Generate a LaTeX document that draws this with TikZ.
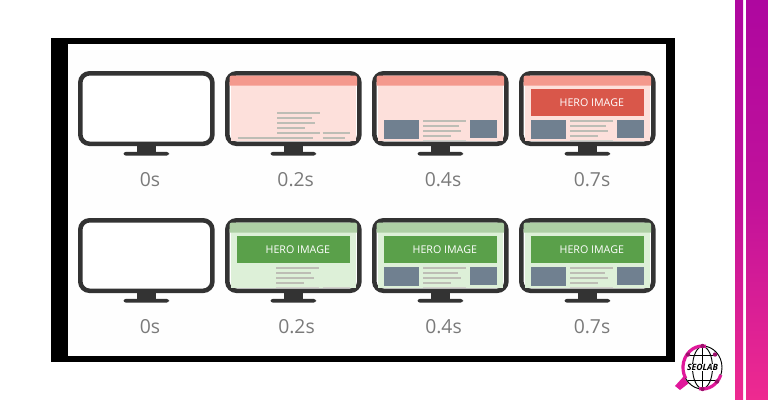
\documentclass[tikz,border=0pt]{standalone}
\usepackage{fontspec}
\setmainfont{Open Sans}
\usepackage{tikz}
\definecolor{mdark}{HTML}{333333}
\definecolor{mlabel}{HTML}{7A7A7A}
\definecolor{mline}{HTML}{BDBDB5}
\definecolor{mbox}{HTML}{708090}
\definecolor{rhead}{HTML}{F4998D}
\definecolor{rpage}{HTML}{FDE0DB}
\definecolor{rhero}{HTML}{D9574A}
\definecolor{ghead}{HTML}{AECFA5}
\definecolor{gpage}{HTML}{DDF0D8}
\definecolor{ghero}{HTML}{5AA04A}
\definecolor{bandtop}{HTML}{AE079F}
\definecolor{bandbot}{HTML}{EE2A90}
\definecolor{seopink}{HTML}{E0189A}
\tikzset{
  timelabel/.style={mlabel,font=\fontsize{14.5}{16}\selectfont},
  herolabel/.style={white,font=\fontsize{8}{10}\selectfont},
  textbar/.style={mline,line width=1.5},
  fadebar/.style={mline!70!white,line width=1},
  globeline/.style={black,line width=0.7}
}
% one monitor, #1 = left edge, #2 = top edge
\newcommand{\monitor}[2]{%
  \fill[mdark] ({#1+59.3},{#2+75}) rectangle ({#1+77.7},{#2+82});
  \fill[mdark,rounded corners=2] ({#1+45.5},{#2+84.7}) -- ({#1+45.5},{#2+80.8}) -- ({#1+91},{#2+80.8}) -- ({#1+91},{#2+84.7}) -- cycle;
  \draw[mdark,line width=3.4,rounded corners=7,fill=white] ({#1+2.3},{#2+2.3}) rectangle ({#1+134.4},{#2+72.8});
}
% screen colours, #1 #2 = monitor, #3 = head colour, #4 = page colour
\newcommand{\screen}[4]{%
  \fill[#4] ({#1+6.3},{#2+14}) rectangle ({#1+130.7},{#2+70.4});
  \fill[#3] ({#1+4.5},{#2+14.5}) -- ({#1+4.5},{#2+7}) arc (180:270:2.5) -- ({#1+129.7},{#2+4.5}) arc (270:360:2.5) -- ({#1+132.2},{#2+14.5}) -- cycle;
}
\newcommand{\hero}[3]{%
  \fill[#3] ({#1+12.2},{#2+18.2}) rectangle ({#1+125},{#2+45});
  \node[herolabel] (hero-#1-#2) at ({#1+72.8},{#2+32}) {HERO IMAGE};
}
\newcommand{\boxes}[2]{%
  \fill[mbox] ({#1+12.2},{#2+49}) rectangle ({#1+47.2},{#2+68.3});
  \fill[mbox] ({#1+97.7},{#2+49}) rectangle ({#1+125},{#2+66.7});
}
% four text bars, #3 = top of the first
\newcommand{\bars}[3]{%
  \draw[textbar] ({#1+52},{#2+#3}) -- ({#1+95},{#2+#3});
  \draw[textbar] ({#1+52},{#2+#3+5}) -- ({#1+87.3},{#2+#3+5});
  \draw[textbar] ({#1+52},{#2+#3+10}) -- ({#1+90},{#2+#3+10});
  \draw[textbar] ({#1+52},{#2+#3+15}) -- ({#1+80},{#2+#3+15});
  \draw[fadebar] ({#1+52},{#2+#3+19.6}) -- ({#1+95},{#2+#3+19.6});
}
\begin{document}
\begin{tikzpicture}[x=0.75pt,y=-0.75pt]
  \useasboundingbox (0,0) rectangle (768,400);
  \fill[white] (0,0) rectangle (768,400);
  % side bands
  \shade[top color=bandtop,bottom color=bandbot,middle color=bandtop!70!bandbot] (735,0) rectangle (743,400);
  \shade[top color=bandtop,bottom color=bandbot,middle color=bandtop!70!bandbot] (746,0) rectangle (768,400);
  % frame
  \fill[black] (51,38) rectangle (675,362);
  \fill[black!0.5] (68,44) rectangle (666,356);
  % monitors
  \foreach \mx in {78,225,372,519}
    \foreach \my in {71,218}
      \monitor{\mx}{\my};
  % top row
  \screen{225}{71}{rhead}{rpage}
  \bars{225}{71}{41.7}
  \draw[textbar] (277,132.7) -- (320,132.7);
  \draw[textbar] (237.7,138) -- (313,138);
  \draw[textbar] (322.7,132.7) -- (350,132.7);
  \draw[textbar] (322.7,138) -- (345,138);
  \screen{372}{71}{rhead}{rpage}
  \boxes{372}{71}
  \bars{371.3}{71}{50}
  \screen{519}{71}{rhead}{rpage}
  \hero{519}{71}{rhero}
  \boxes{519}{71}
  \bars{518.3}{71}{50}
  % bottom row
  \screen{225}{218}{ghead}{gpage}
  \hero{225}{218}{ghero}
  \bars{224}{218}{49.7}
  \draw[fadebar] (323,287.3) -- (350,287.3);
  \screen{372}{218}{ghead}{gpage}
  \hero{372}{218}{ghero}
  \boxes{372}{218}
  \bars{371}{218}{49.7}
  \screen{519}{218}{ghead}{gpage}
  \hero{519}{218}{ghero}
  \boxes{519}{218}
  \bars{518}{218}{49.7}
  % time labels
  \node[timelabel] (t1) at (150,180) {0s};
  \node[timelabel] (t2) at (295.7,180) {0.2s};
  \node[timelabel] (t3) at (443,180) {0.4s};
  \node[timelabel] (t4) at (592,180) {0.7s};
  \node[timelabel] (b1) at (150,327) {0s};
  \node[timelabel] (b2) at (296.5,327) {0.2s};
  \node[timelabel] (b3) at (443.5,327) {0.4s};
  \node[timelabel] (b4) at (592,327) {0.7s};
  % logo
  \fill[seopink] (684,376) -- (689,383) -- (680,390) -- (675,386) -- cycle;
  \fill[white] (702.5,367.5) ellipse (20 and 22);
  \draw[globeline] (702.5,367.5) ellipse (19.5 and 21.5);
  \draw[globeline] (702.5,345) -- (702.5,390);
  \draw[globeline] (702.5,367.5) ellipse (10 and 21);
  \draw[globeline] (688,355) -- (717,355);
  \draw[globeline] (688,380) -- (717,380);
  \draw[seopink,line width=2.4] (685.6,378.25) arc (150:280:19.5 and 21.5);
  \draw[seopink,line width=2.4] (720.8,374.85) arc (20:100:19.5 and 21.5);
  \foreach \lx/\ly in {688/354.5,715/354.5,717/381.5,702.5/346,702.5/389}
    \fill[seopink!70!black] (\lx,\ly) circle (2.2);
  \node[fill=white,inner sep=0.5pt,font=\fontsize{6.5}{7}\selectfont\bfseries\itshape] (seolab) at (702.5,367.5) {SEOLAB};
\end{tikzpicture}
\end{document}
